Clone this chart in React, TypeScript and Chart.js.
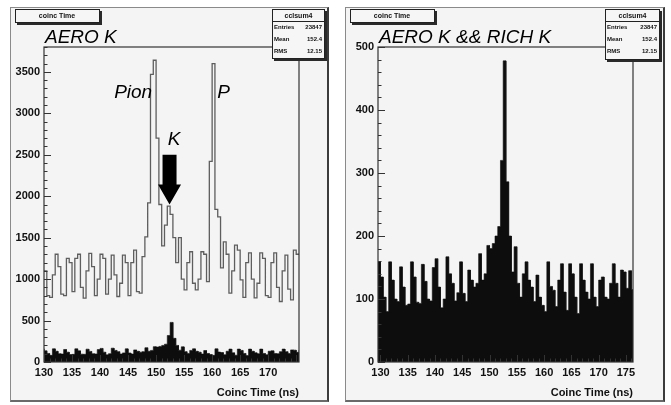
import React, { useEffect, useRef } from "react";
import { Chart, registerables } from "chart.js";

Chart.register(...registerables);

// ---------------- data ----------------
const BIN_WIDTH = 0.5;

// AERO K : coincidence time histogram (outline), bins of 0.5 ns starting at 130.0 ns
const aeroStart = 130.0;
const aeroK = [
  1100, 800, 780, 1050, 1300, 1150, 820, 800, 1250, 1200,
  850, 1250, 1300, 900, 770, 1100, 1310, 1150, 800, 1000,
  1300, 1250, 820, 1000, 1290, 1050, 790, 950, 1290, 1200,
  800, 1200, 1350, 850, 830, 1270, 1510, 1920, 3470, 3640,
  2700, 1900, 1400, 1650, 1880, 1780, 1500, 1200, 1500, 1000,
  870, 1200, 1330, 950, 870, 1000, 1330, 1300, 970, 2420,
  3600, 1840, 1750, 1135, 1450, 1300, 830, 1100, 1410, 1350,
  990, 780, 1200, 1316, 1000, 773, 950, 1316, 1250, 800,
  780, 1200, 1316, 900, 730, 1100, 1290, 880, 750, 1350,
  1300,
];

// AERO K && RICH K : filled histogram, bins of 0.5 ns starting at 129.5 ns
const richStart = 129.5;
const aeroRichK = [
  159, 135, 103, 80, 159, 130, 100, 96, 151, 119,
  90, 92, 159, 135, 95, 93, 155, 128, 100, 97,
  150, 164, 119, 86, 100, 167, 140, 125, 97, 110,
  159, 109, 96, 146, 130, 119, 125, 172, 130, 140,
  185, 180, 188, 200, 215, 320, 478, 286, 200, 143,
  183, 125, 103, 140, 159, 130, 119, 96, 138, 103,
  90, 80, 159, 120, 114, 88, 130, 156, 111, 82,
  156, 140, 103, 77, 156, 130, 111, 100, 156, 103,
  88, 130, 135, 103, 100, 125, 156, 125, 103, 146,
  143, 117, 145, 115,
];

const leftXTicks = [130, 135, 140, 145, 150, 155, 160, 165, 170];
const rightXTicks = [130, 135, 140, 145, 150, 155, 160, 165, 170, 175];
const leftYTicks = [0, 500, 1000, 1500, 2000, 2500, 3000, 3500];
const rightYTicks = [0, 100, 200, 300, 400, 500];

const histTitle = "coinc Time";
const statsName = "cclsum4";
const statsRows: [string, string][] = [
  ["Entries", "23847"],
  ["Mean", "152.4"],
  ["RMS", "12.15"],
];

const FONT = "'Liberation Sans', Arial, Helvetica, sans-serif";

// ---------------- helpers ----------------
function stepPoints(start: number, w: number, vals: number[]) {
  const pts: { x: number; y: number }[] = [];
  vals.forEach((v, i) => {
    pts.push({ x: start + i * w, y: v });
    pts.push({ x: start + (i + 1) * w, y: v });
  });
  return pts;
}

type Label = { text: string; x: number; y: number; align: CanvasTextAlign };
type PanelSpec = {
  left: number;
  top: number;
  width: number;
  height: number;
  yAxisWidth: number;
  padRight: number;
  xMin: number;
  xMax: number;
  yMax: number;
  xTicks: number[];
  yTicks: number[];
  yMinor: number;
  outline: boolean;
  title: string;
  statsBox: [number, number, number, number];
  labels: Label[];
  arrow?: { x: number; yTop: number; yTip: number };
};

function shadowBox(ctx: CanvasRenderingContext2D, x0: number, y0: number, x1: number, y1: number) {
  ctx.fillStyle = "#2a2a2a";
  ctx.fillRect(x0 + 2, y0 + 2, x1 - x0, y1 - y0);
  ctx.fillStyle = "#f6f6f6";
  ctx.fillRect(x0, y0, x1 - x0, y1 - y0);
  ctx.strokeStyle = "#222";
  ctx.lineWidth = 1;
  ctx.strokeRect(x0 + 0.5, y0 + 0.5, x1 - x0 - 1, y1 - y0 - 1);
}

function decorPlugin(p: PanelSpec) {
  return {
    id: "decor",
    afterDraw(chart: any) {
      const ctx: CanvasRenderingContext2D = chart.ctx;
      const a = chart.chartArea;
      const xs = chart.scales.x;
      const ys = chart.scales.y;
      ctx.save();
      // frame
      ctx.strokeStyle = "#333";
      ctx.lineWidth = 1.2;
      ctx.strokeRect(a.left, a.top, a.right - a.left, a.bottom - a.top);
      // y ticks (inside)
      ctx.lineWidth = 1;
      ctx.beginPath();
      for (let v = 0; v <= p.yMax + 1e-6; v += p.yMinor) {
        const py = Math.round(ys.getPixelForValue(v)) + 0.5;
        const major = p.yTicks.includes(Math.round(v));
        ctx.moveTo(a.left, py);
        ctx.lineTo(a.left + (major ? 7 : 3.5), py);
      }
      ctx.stroke();
      // x ticks (inside)
      ctx.beginPath();
      for (let v = Math.ceil(p.xMin); v <= p.xMax; v += 1) {
        const px = Math.round(xs.getPixelForValue(v)) + 0.5;
        const major = v % 5 === 0;
        ctx.moveTo(px, a.bottom);
        ctx.lineTo(px, a.bottom - (major ? 7 : 3.5));
      }
      ctx.stroke();

      // histogram title box
      shadowBox(ctx, 5, 2, 90, 16);
      ctx.fillStyle = "#111";
      ctx.font = `bold 7px ${FONT}`;
      ctx.textAlign = "center";
      ctx.textBaseline = "middle";
      ctx.fillText(histTitle, 47, 9);

      // stats box
      const [sx0, sy0, sx1, sy1] = p.statsBox;
      shadowBox(ctx, sx0, sy0, sx1, sy1);
      ctx.fillStyle = "#111";
      ctx.font = `bold 7px ${FONT}`;
      ctx.textAlign = "center";
      ctx.textBaseline = "alphabetic";
      ctx.fillText(statsName, (sx0 + sx1) / 2, sy0 + 9);
      ctx.beginPath();
      ctx.moveTo(sx0, sy0 + 12.5);
      ctx.lineTo(sx1, sy0 + 12.5);
      ctx.stroke();
      ctx.font = `bold 6px ${FONT}`;
      statsRows.forEach((r, i) => {
        const by = sy0 + 20 + i * 12;
        ctx.textAlign = "left";
        ctx.fillText(r[0], sx0 + 2, by);
        ctx.textAlign = "right";
        ctx.fillText(r[1], sx1 - 3, by);
      });

      // big title
      ctx.fillStyle = "#000";
      ctx.font = `italic 19px ${FONT}`;
      ctx.textAlign = "left";
      ctx.textBaseline = "alphabetic";
      ctx.fillText(p.title, a.left + 1, 36);

      // labels anchored to data
      p.labels.forEach((l) => {
        ctx.textAlign = l.align;
        ctx.fillText(l.text, xs.getPixelForValue(l.x), ys.getPixelForValue(l.y));
      });

      // arrow
      if (p.arrow) {
        const tx = xs.getPixelForValue(p.arrow.x);
        const ty = ys.getPixelForValue(p.arrow.yTip);
        const top = ys.getPixelForValue(p.arrow.yTop);
        const sh = 7;
        const hh = 11.5;
        const hl = 20;
        ctx.fillStyle = "#000";
        ctx.beginPath();
        ctx.moveTo(tx - sh, top);
        ctx.lineTo(tx + sh, top);
        ctx.lineTo(tx + sh, ty - hl);
        ctx.lineTo(tx + hh, ty - hl);
        ctx.lineTo(tx, ty);
        ctx.lineTo(tx - hh, ty - hl);
        ctx.lineTo(tx - sh, ty - hl);
        ctx.closePath();
        ctx.fill();
      }
      ctx.restore();
    },
  };
}

function makeConfig(p: PanelSpec): any {
  const datasets: any[] = [];
  if (p.outline) {
    datasets.push({
      data: stepPoints(aeroStart, BIN_WIDTH, aeroK),
      borderColor: "#5e5e5e",
      borderWidth: 1.3,
      pointRadius: 0,
      fill: false,
      tension: 0,
    });
  }
  datasets.push({
    data: stepPoints(richStart, BIN_WIDTH, aeroRichK),
    borderColor: "#0d0d0d",
    borderWidth: 0.6,
    backgroundColor: "#0d0d0d",
    fill: "origin",
    pointRadius: 0,
    tension: 0,
  });
  const tickFont = { family: FONT, size: 11, weight: "bold" as const };
  return {
    type: "line",
    data: { datasets },
    options: {
      animation: false,
      responsive: false,
      events: [],
      layout: { padding: { left: 0, right: p.padRight, top: 40, bottom: 0 } },
      plugins: { legend: { display: false }, tooltip: { enabled: false } },
      scales: {
        x: {
          type: "linear",
          min: p.xMin,
          max: p.xMax,
          grid: { display: false, drawTicks: false },
          border: { display: false },
          afterBuildTicks: (s: any) => {
            s.ticks = p.xTicks.map((v) => ({ value: v }));
          },
          afterFit: (s: any) => {
            s.height = 40;
          },
          ticks: {
            padding: 4,
            font: tickFont,
            color: "#111",
            maxRotation: 0,
            autoSkip: false,
            callback: (v: any) => String(v),
          },
          title: {
            display: true,
            text: "Coinc Time (ns)",
            align: "end",
            color: "#111",
            font: tickFont,
            padding: { top: 0, bottom: 2 },
          },
        },
        y: {
          type: "linear",
          min: 0,
          max: p.yMax,
          grid: { display: false, drawTicks: false },
          border: { display: false },
          afterBuildTicks: (s: any) => {
            s.ticks = p.yTicks.map((v) => ({ value: v }));
          },
          afterFit: (s: any) => {
            s.width = p.yAxisWidth;
          },
          ticks: {
            padding: 4,
            font: tickFont,
            color: "#111",
            autoSkip: false,
            callback: (v: any) => String(v),
          },
        },
      },
    },
    plugins: [decorPlugin(p)],
  };
}

const leftPanel: PanelSpec = {
  left: 10,
  top: 7,
  width: 319,
  height: 395,
  yAxisWidth: 34,
  padRight: 30,
  xMin: 130,
  xMax: 175.5,
  yMax: 3800,
  xTicks: leftXTicks,
  yTicks: leftYTicks,
  yMinor: 100,
  outline: true,
  title: "AERO K",
  statsBox: [262, 2, 315, 52],
  labels: [
    { text: "Pion", x: 149.3, y: 3180, align: "right" },
    { text: "P", x: 160.9, y: 3180, align: "left" },
    { text: "K", x: 152.1, y: 2620, align: "left" },
  ],
  arrow: { x: 152.4, yTop: 2500, yTip: 1900 },
};

const rightPanel: PanelSpec = {
  left: 345,
  top: 7,
  width: 320,
  height: 395,
  yAxisWidth: 33,
  padRight: 32,
  xMin: 129.55,
  xMax: 176.3,
  yMax: 500,
  xTicks: rightXTicks,
  yTicks: rightYTicks,
  yMinor: 20,
  outline: false,
  title: "AERO K && RICH K",
  statsBox: [260, 2, 315, 53],
  labels: [],
};

function Panel({ spec }: { spec: PanelSpec }) {
  const ref = useRef<HTMLCanvasElement>(null);
  useEffect(() => {
    const chart = new Chart(ref.current as HTMLCanvasElement, makeConfig(spec));
    return () => chart.destroy();
  }, [spec]);
  return (
    <div style={{ position: "absolute", left: spec.left, top: spec.top, width: spec.width, height: spec.height }}>
      <div
        style={{
          position: "absolute",
          left: 0,
          top: 0,
          width: spec.width,
          height: spec.height,
          boxSizing: "border-box",
          background: "#f4f4f4",
          borderLeft: "1px solid #8a8a8a",
          borderTop: "1px solid #8a8a8a",
          borderRight: "2px solid #3c3c3c",
          borderBottom: "2px solid #6a6a6a",
        }}
      />
      <canvas
        ref={ref}
        width={spec.width}
        height={spec.height}
        style={{ position: "absolute", left: 0, top: 0, width: spec.width, height: spec.height }}
      />
    </div>
  );
}

export default function App() {
  return (
    <div style={{ position: "absolute", left: 0, top: 0, width: 671, height: 405, background: "#fff" }}>
      <Panel spec={leftPanel} />
      <Panel spec={rightPanel} />
    </div>
  );
}
